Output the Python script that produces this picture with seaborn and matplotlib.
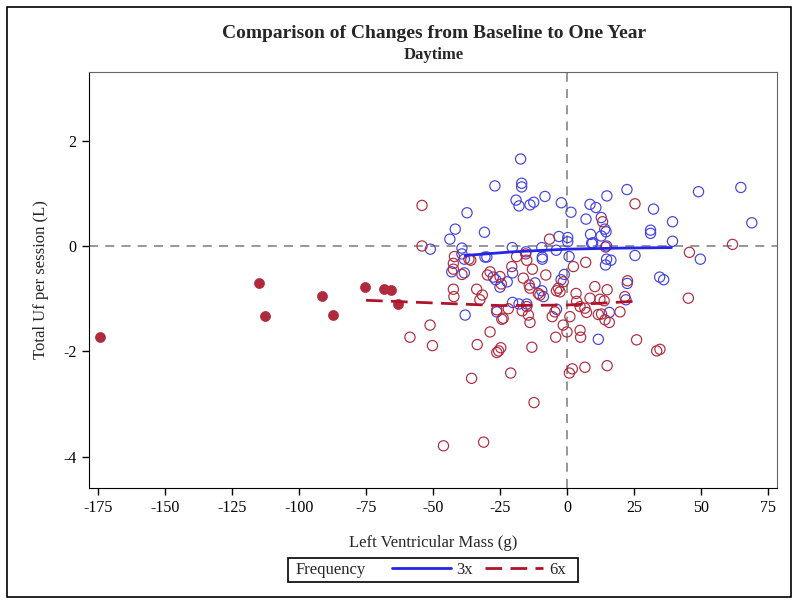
import numpy as np
import pandas as pd
import seaborn as sns
import matplotlib
matplotlib.use("Agg")
import matplotlib.pyplot as plt
from matplotlib.lines import Line2D
from matplotlib.patches import Rectangle

# 3x frequency (open blue circles)
x_3x = [-17.3, -26.9, -16.9, -16.9, -19.0, -17.9, -13.8, -12.4, -8.2, -2.1,
        1.5, -37.3, -41.7, -43.7, -30.8, -51.0, -39.2, -39.2, -38.3, -30.6,
        -29.9, -20.4, -15.3, -9.4, -9.2, -9.2, -4.0, -3.0, 0.3, 0.3,
        0.8, 7.1, 8.6, 10.8, 14.9, 12.8, 14.1, 14.6, 8.8, 12.8,
        9.6, 14.8, 14.8, 16.4, 14.4, 22.4, 25.4, 32.3, 31.2, 31.2,
        39.4, 39.4, 49.1, 49.8, 64.9, 69.0, 34.6, 36.1, -43.0, -38.3,
        -27.5, -26.6, -25.0, -22.3, -20.3, -11.9, -9.4, -8.8, -2.2, -1.0,
        -20.3, -17.9, -15.0, -38.0, -26.2, -3.9, 22.5, 22.0, 15.8, 11.7,
        9.2]
y_3x = [1.65, 1.14, 1.19, 1.12, 0.87, 0.76, 0.78, 0.83, 0.94, 0.82,
        0.64, 0.63, 0.32, 0.13, 0.26, -0.06, -0.04, -0.15, -0.25, -0.21,
        -0.21, -0.03, -0.11, -0.03, -0.21, -0.25, -0.08, 0.18, 0.16, 0.08,
        -0.20, 0.51, 0.79, 0.73, 0.95, 0.54, 0.32, 0.27, 0.22, 0.19,
        0.06, 0.00, -0.25, -0.27, -0.36, 1.07, -0.18, 0.70, 0.30, 0.24,
        0.46, 0.09, 1.03, -0.25, 1.11, 0.44, -0.59, -0.64, -0.49, -0.51,
        -0.59, -0.64, -0.78, -0.68, -0.51, -0.70, -0.85, -0.96, -0.64, -0.54,
        -1.07, -1.10, -1.10, -1.31, -1.25, -1.20, -0.71, -1.02, -1.26, -1.77,
        0.05]

# 6x frequency (open red circles)
x_6x = [-54.1, -54.1, -6.5, -42.0, -42.4, -42.4, -39.2, -36.6, -35.9, -28.7,
        -29.7, -25.0, -20.6, -18.8, -15.0, -15.4, -12.9, -7.9, -16.3, -14.1,
        -13.8, -42.4, -42.2, -33.7, -31.6, -32.5, -10.7, -10.1, -3.2, -3.9,
        -2.6, -1.4, 2.4, -26.2, -23.8, -21.9, -16.7, -15.0, -14.4, -13.8,
        -5.5, -4.5, 1.1, -51.1, -28.7, -58.6, -1.4, 0.0, -50.2, -35.6,
        -46.1, -31.1, -33.5, -26.2, -25.5, -24.7, -24.3, -21.0, -13.1, -12.3,
        -4.2, 0.9, 2.0, 4.9, 5.1, 6.7, 3.4, 3.6, 7.0, 4.9,
        6.7, 7.3, 10.4, 11.7, 12.9, 14.2, 15.8, 8.6, 12.3, 13.9,
        15.0, 15.0, 19.8, 21.6, 22.6, 26.0, 33.5, 34.7, 25.4, 13.3,
        14.4, 61.8, 45.7, 45.3, -24.5]
y_6x = [0.77, 0.00, 0.13, -0.20, -0.33, -0.44, -0.54, -0.25, -0.27, -0.49,
        -0.55, -0.58, -0.39, -0.20, -0.27, -0.15, -0.44, -0.55, -0.61, -0.74,
        -0.80, -0.82, -0.96, -0.82, -0.93, -1.02, -0.90, -0.93, -0.80, -0.85,
        -0.87, -0.68, -0.39, -1.21, -1.37, -1.19, -1.23, -1.15, -1.31, -1.45,
        -1.34, -1.25, -1.34, -1.50, -1.63, -1.73, -1.50, -1.63, -1.89, -2.51,
        -3.79, -3.72, -1.87, -2.02, -1.99, -1.93, -1.39, -2.41, -1.92, -2.97,
        -1.73, -2.41, -2.33, -1.60, -1.73, -2.30, -0.90, -1.05, -0.31, -1.15,
        -1.18, -1.26, -0.77, -1.30, -1.29, -1.40, -1.45, -0.99, -1.01, -1.04,
        -0.83, -2.27, -1.25, -0.96, -0.66, -1.78, -1.99, -1.96, 0.80, 0.46,
        -0.02, 0.03, -0.12, -0.99, -0.72]

# filled red points
x_fill = [-174.3, -115.0, -112.6, -91.3, -87.2, -75.3, -68.2, -65.8, -62.9]
y_fill = [-1.73, -0.71, -1.33, -0.95, -1.30, -0.78, -0.82, -0.84, -1.10]

# fitted curves
fit3_x = [-38, -20, 0, 20, 39]
fit3_y = [-0.18, -0.11, -0.06, -0.04, -0.03]
fit6_x = [-75, -50, -25, 0, 25]
fit6_y = [-1.03, -1.08, -1.13, -1.12, -1.05]

x_ticks = [-175, -150, -125, -100, -75, -50, -25, 0, 25, 50, 75]
y_ticks = [-4, -2, 0, 2]

blue = "#4242e4"
red = "#b02a3e"
line_blue = "#2525e8"
line_red = "#b0142a"

df3 = pd.DataFrame({"x": x_3x, "y": y_3x})
df6 = pd.DataFrame({"x": x_6x, "y": y_6x})
dff = pd.DataFrame({"x": x_fill, "y": y_fill})

sns.set_style("ticks")
plt.rcParams["font.family"] = ["Liberation Serif", "DejaVu Serif"]
plt.rcParams["axes.unicode_minus"] = False

fig = plt.figure(figsize=(8, 6.04), dpi=100)
ax = fig.add_axes([89/800, 1-488/604, (777-89)/800, (488-72)/604])

ax.axhline(0, color="#8f8f8f", lw=1.3, ls=(0, (5, 4)), zorder=1)
ax.axvline(0, color="#8f8f8f", lw=1.3, ls=(0, (5, 4)), zorder=1)

sns.scatterplot(data=df3, x="x", y="y", ax=ax, marker="o", s=54,
                facecolor="none", edgecolor=blue, linewidth=0.85, zorder=3)
sns.scatterplot(data=df6, x="x", y="y", ax=ax, marker="o", s=54,
                facecolor="none", edgecolor=red, linewidth=0.85, zorder=3)
sns.scatterplot(data=dff, x="x", y="y", ax=ax, marker="o", s=52,
                color=red, edgecolor=red, linewidth=0.5, zorder=3)

sns.lineplot(x=fit3_x, y=fit3_y, ax=ax, color=line_blue, lw=2, zorder=4)
sns.lineplot(x=fit6_x, y=fit6_y, ax=ax, color=line_red, lw=2,
             ls=(0, (6, 3)), zorder=4)

ax.set_xlim(-178.4, 78.4)
ax.set_ylim(-4.59, 3.30)
ax.set_xticks(x_ticks)
ax.set_yticks(y_ticks)
ax.tick_params(direction="out", length=5, width=1, labelsize=11.5, pad=4, colors="black")
for s in ["top", "right"]:
    ax.spines[s].set_color("#666666")
    ax.spines[s].set_visible(True)
for s in ["left", "bottom"]:
    ax.spines[s].set_color("black")
ax.set_xlabel("Left Ventricular Mass (g)", fontsize=12, labelpad=13)
ax.set_ylabel("Total Uf per session (L)", fontsize=12, labelpad=10)

fig.text(434/800, 1-34/604, "Comparison of Changes from Baseline to One Year",
         ha="center", va="center", fontsize=14, fontweight="bold")
fig.text(434/800, 1-55/604, "Daytime", ha="center", va="center",
         fontsize=12, fontweight="bold")

# legend box
fig.patches.append(Rectangle((288/800, 1-582/604), (578-288)/800, 24/604,
                             transform=fig.transFigure, fill=False,
                             edgecolor="black", lw=1.2))
fig.text(296/800, 1-570/604, "Frequency", ha="left", va="center", fontsize=12)
handles = [Line2D([], [], color=line_blue, lw=2),
           Line2D([], [], color=line_red, lw=2, ls=(0, (6, 3)))]
fig.legend(handles, ["3x", "6x"], ncol=2, frameon=False, fontsize=12,
           loc="center", bbox_to_anchor=(479/800, 1-570/604),
           handlelength=3.5, handletextpad=0.35, columnspacing=0.7)

# outer frame
fig.patches.append(Rectangle((7/800, 1-597/604), 784/800, 590/604,
                             transform=fig.transFigure, fill=False,
                             edgecolor="black", lw=1.2))

fig.savefig("out.png", dpi=100)
